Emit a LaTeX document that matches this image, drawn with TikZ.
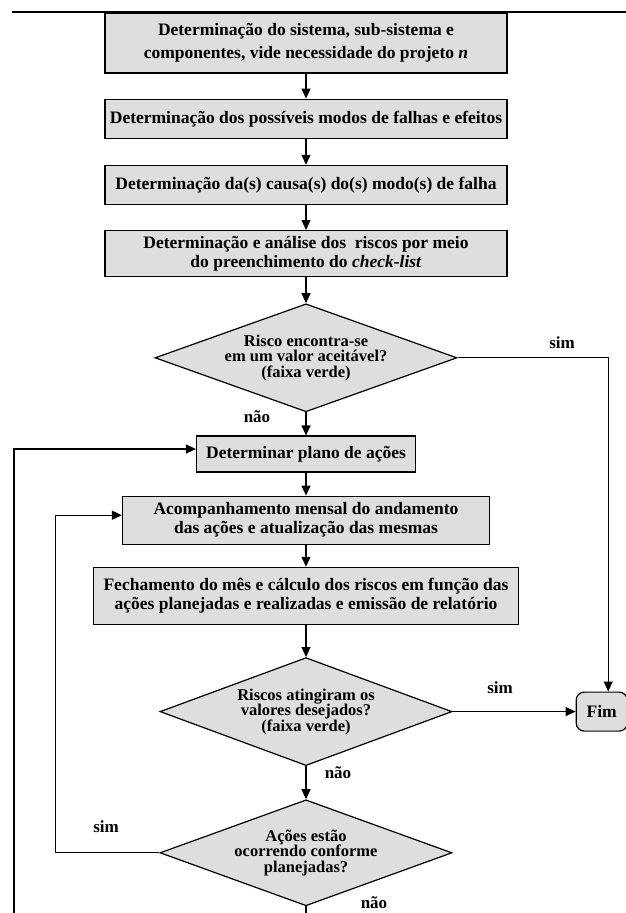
\documentclass[tikz,border=0pt]{standalone}
\usepackage{fontspec}
\setmainfont{Liberation Serif}
\usetikzlibrary{positioning,shapes.geometric,arrows.meta}
\definecolor{boxgray}{gray}{0.87}
\begin{document}
\begin{tikzpicture}[x=1pt, y=1pt, line width=1.2pt, >={Triangle[length=10pt,width=9pt]},
	box/.style = {draw, fill=boxgray, align=center, minimum width=402pt, inner sep=2pt, font={\fontsize{17.5}{19}\selectfont\bfseries}},
	test/.style = {draw, diamond, aspect=2.7, fill=boxgray, align=center, minimum width=292pt, minimum height=108pt, inner sep=0pt, font={\fontsize{16.5}{15.5}\selectfont\bfseries}},
	lbl/.style = {font={\fontsize{17}{17}\selectfont\bfseries}}]
	\useasboundingbox (0,0) rectangle (626,-913);
	\draw[line width=2.5pt] (12,-12) -- (626,-12);
	% caixas do fluxo
	\node[box, minimum height=60pt, font={\fontsize{17.5}{23}\selectfont\bfseries}] (b1) at (306,-43) {Determinação do sistema, sub-sistema e\\componentes, vide necessidade do projeto \textit{n}};
	\node[box, minimum height=39pt, below=25pt of b1] (b2) {Determinação dos possíveis modos de falhas e efeitos};
	\node[box, minimum height=39pt, below=26pt of b2] (b3) {Determinação da(s) causa(s) do(s) modo(s) de falha};
	\node[box, minimum height=46pt, below=25pt of b3] (b4) {Determinação e análise dos\ \ riscos por meio\\do preenchimento do \textit{check-list}};
	\node[test, minimum width=302pt, below=26pt of b4] (d1) {Risco encontra-se\\em um valor aceitável?\\(faixa verde)};
	\node[box, minimum width=219pt, minimum height=36pt, below=23pt of d1] (b5) {Determinar plano de ações};
	\node[box, minimum width=367pt, minimum height=48pt, below=23pt of b5] (b6) {Acompanhamento mensal do andamento\\das ações e atualização das mesmas};
	\node[box, minimum width=425pt, minimum height=57pt, below=22pt of b6] (b7) {Fechamento do mês e cálculo dos riscos em função das\\ações planejadas e realizadas e emissão de relatório};
	\node[test, below=32pt of b7] (d2) {Riscos atingiram os\\valores desejados?\\(faixa verde)};
	\node[test, minimum height=106pt, below=33pt of d2] (d3) {Ações estão\\ocorrendo conforme\\planejadas?};
	\node[box, minimum width=51pt, minimum height=39pt, rounded corners=8pt, right=123pt of d2] (fim) {Fim};
	% rotulos
	\node[lbl] (s1) at (562,-343) {sim};
	\node[lbl] (n1) at (257,-417) {não};
	\node[lbl] (s2) at (500,-688) {sim};
	\node[lbl] (n2) at (338,-773) {não};
	\node[lbl] (s3) at (106,-827) {sim};
	\node[lbl] (n3) at (374,-903) {não};
	\coordinate (e1) at (14,-913);
	% ligacoes
	\draw[->] (b1) -- (b2);
	\draw[->] (b2) -- (b3);
	\draw[->] (b3) -- (b4);
	\draw[->] (b4) -- (d1);
	\draw[->] (d1) -- (b5);
	\draw[->] (b5) -- (b6);
	\draw[->] (b6) -- (b7);
	\draw[->] (b7) -- (d2);
	\draw[->] (d2) -- (d3);
	\draw[->] (d2) -- (fim);
	\draw[->] (d1.east) -| ([xshift=6.5pt]fim.north);
	\draw[->] (d3.west) -- ++(-104,0) |- ([yshift=5pt]b6.west);
	\draw[->] (e1) |- ([yshift=5pt]b5.west);
	\draw (d3.south) -- (d3.south |- e1);
\end{tikzpicture}
\end{document}
